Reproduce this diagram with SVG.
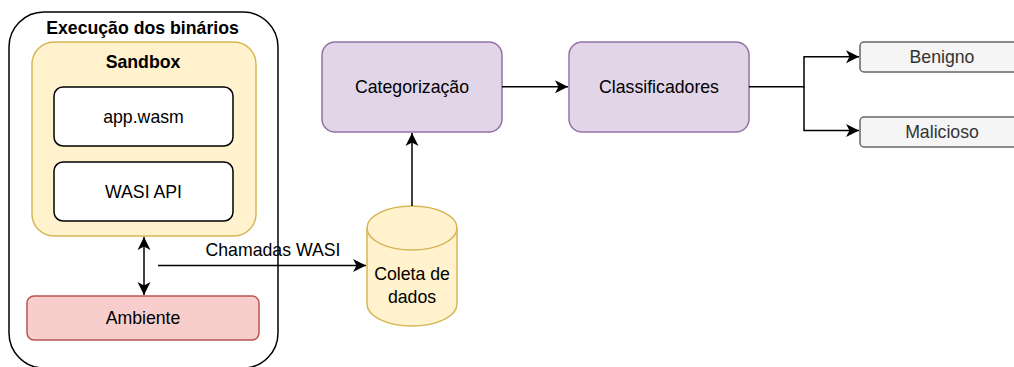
<svg xmlns="http://www.w3.org/2000/svg" width="1014" height="367" viewBox="0 0 1014 367">
<style>
text{font-family:"Liberation Sans",Arial,sans-serif;font-size:17.7px;text-anchor:middle;fill:#000}
.b{font-weight:bold}
.g{fill:#333}
.line{fill:none;stroke:#000;stroke-width:1.5}
</style>
<defs>
<marker id="arr" markerUnits="userSpaceOnUse" markerWidth="14" markerHeight="14" viewBox="0 0 14 14" refX="13" refY="7" orient="auto-start-reverse">
<path d="M0,0.5 L13,7 L0,13.5 L3.5,7 Z" fill="#000"/>
</marker>
</defs>
<rect width="1014" height="367" fill="#fff"/>
<g id="execucao">
<rect x="9" y="12" width="269" height="356" rx="35" fill="#fff" stroke="#000" stroke-width="1.5"/>
<text class="b" x="142.5" y="34">Execução dos binários</text>
</g>
<g id="sandbox">
<rect x="32" y="42" width="224" height="194" rx="22" fill="#fff2cc" stroke="#d6b656" stroke-width="1.5"/>
<text class="b" x="143" y="68">Sandbox</text>
</g>
<g id="appwasm">
<rect x="54" y="87" width="179" height="59" rx="9" fill="#fff" stroke="#000" stroke-width="1.5"/>
<text x="143.5" y="122.5">app.wasm</text>
</g>
<g id="wasiapi">
<rect x="54" y="162" width="179" height="59" rx="9" fill="#fff" stroke="#000" stroke-width="1.5"/>
<text x="143.5" y="197.5">WASI API</text>
</g>
<g id="ambiente">
<rect x="27" y="296" width="232" height="44" rx="7" fill="#f8cecc" stroke="#b85450" stroke-width="1.5"/>
<text x="143" y="324">Ambiente</text>
</g>
<g id="coleta">
<path d="M367,228 A45,22 0 0 1 457,228 L457,304 A45,22 0 0 1 367,304 Z" fill="#fff2cc" stroke="#d6b656" stroke-width="1.5"/>
<path d="M367,228 A45,22 0 0 0 457,228" fill="none" stroke="#d6b656" stroke-width="1.5"/>
<text x="412" y="280">Coleta de</text>
<text x="412" y="303">dados</text>
</g>
<g id="categorizacao">
<rect x="322" y="42" width="180" height="90" rx="13" fill="#e1d5e7" stroke="#9673a6" stroke-width="1.5"/>
<text x="412" y="93">Categorização</text>
</g>
<g id="classificadores">
<rect x="569" y="42" width="180" height="90" rx="13" fill="#e1d5e7" stroke="#9673a6" stroke-width="1.5"/>
<text x="659" y="93">Classificadores</text>
</g>
<g id="benigno">
<rect x="860" y="42" width="164" height="30" rx="4" fill="#f5f5f5" stroke="#666" stroke-width="1.5"/>
<text class="g" x="942" y="63">Benigno</text>
</g>
<g id="malicioso">
<rect x="860" y="117" width="164" height="30" rx="4" fill="#f5f5f5" stroke="#666" stroke-width="1.5"/>
<text class="g" x="942" y="138">Malicioso</text>
</g>
<g id="connectors">
<path class="line" d="M144,237 L144,295" marker-start="url(#arr)" marker-end="url(#arr)"/>
<path class="line" d="M158,265.5 L366,265.5" marker-end="url(#arr)"/>
<text x="273" y="256">Chamadas WASI</text>
<path class="line" d="M412,206 L412,133" marker-end="url(#arr)"/>
<path class="line" d="M502,86.7 L568,86.7" marker-end="url(#arr)"/>
<path class="line" d="M749,86.7 L804,86.7 L804,56.7 L859,56.7" marker-end="url(#arr)"/>
<path class="line" d="M804,86.7 L804,130.5 L859,130.5" marker-end="url(#arr)"/>
</g>
</svg>
